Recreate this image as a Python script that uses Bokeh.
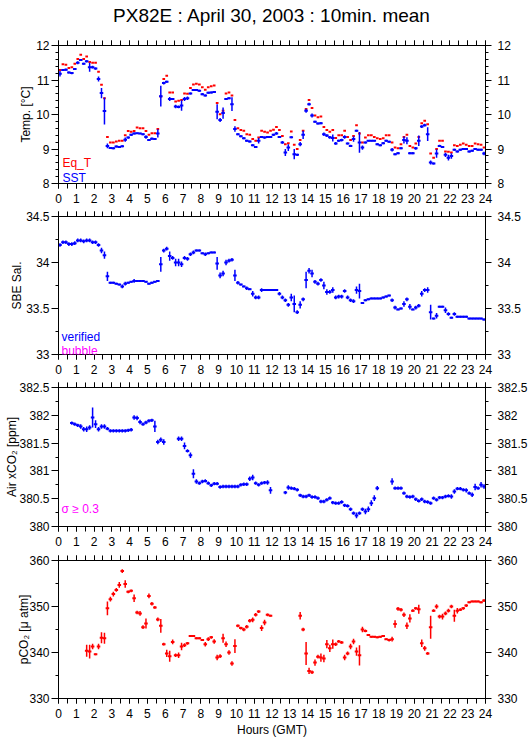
import numpy as np
from bokeh.plotting import figure
from bokeh.layouts import column
from bokeh.models import Range1d, FixedTicker, CustomJSTickFormatter, Label, LinearAxis, CustomLabelingPolicy
from bokeh.embed import file_html
from bokeh.resources import INLINE

FONT = "Liberation Sans"
BLUE, RED, MAGENTA = "#0000ff", "#ff0000", "#ff00ff"

title_text = "PX82E : April 30, 2003 : 10min. mean"
hours = [i / 6 + 1 / 12 for i in range(144)]          # 10-min bin centres
hour_ticks = list(range(25))
half_hours = [i / 2 for i in range(49)]

temp_ticks = [8, 9, 10, 11, 12]
temp_minor = [8 + i / 5 for i in range(21)]
sal_ticks = [33, 33.5, 34, 34.5]
sal_minor = [33 + i / 4 for i in range(7)]
xco2_ticks = [380, 380.5, 381, 381.5, 382, 382.5]
xco2_minor = [380 + i / 4 for i in range(11)]
pco2_ticks = [330, 340, 350, 360]
pco2_minor = [330 + 5 * i for i in range(7)]

# ---------------- Temperature ----------------
sst = [
    11.18, 11.29, 11.30, 11.22, 11.20, 11.32,
    11.50, 11.58, 11.47, 11.54, 11.37, 11.37,
    11.33, 11.03, 10.62, 10.10, 9.09, 9.03,
    9.02, 9.07, 9.06, 9.08, 9.27, 9.33,
    9.41, 9.45, 9.46, 9.45, 9.43, 9.35,
    9.26, 9.30, 9.29, 9.45, 10.53, 10.91,
    10.95, 10.45, 10.45, 10.23, 10.22, 10.26,
    10.45, 10.47, 10.61, 10.71, 10.71, 10.69,
    10.59, 10.55, 10.63, 10.64, 10.65, 10.08,
    9.84, 10.04, 10.45, 10.47, 10.30, 9.58,
    9.43, 9.37, 9.31, 9.24, 9.22, 9.11,
    9.06, 9.24, 9.35, 9.33, 9.35, 9.35,
    9.41, 9.45, 9.35, 9.19, 8.90, 9.04,
    9.34, 8.85, 8.83, 9.14, 9.41, 10.11,
    10.30, 9.97, 9.79, 9.74, 9.75, 9.43,
    9.39, 9.34, 9.32, 9.16, 9.24, 9.26,
    9.35, 9.16, 9.09, 9.29, 9.53, 9.19,
    9.04, 9.19, 9.24, 9.24, 9.24, 9.14,
    9.11, 9.17, 9.24, 9.21, 8.98, 8.85,
    8.88, 9.02, 9.26, 9.24, 8.88, 8.88,
    9.02, 9.24, 9.65, 9.69, 9.43, 8.61,
    8.58, 8.87, 9.09, 9.06, 8.83, 8.75,
    8.80, 8.98, 8.93, 8.98, 9.00, 9.00,
    8.93, 8.95, 9.00, 8.98, 8.98, 8.87,
]
sst_err = [
    0.08, 0.03, 0.03, 0.03, 0.03, 0.03,
    0.04, 0.03, 0.03, 0.03, 0.13, 0.04,
    0.03, 0.07, 0.15, 0.39, 0.07, 0.03,
    0.03, 0.03, 0.03, 0.03, 0.06, 0.03,
    0.03, 0.03, 0.02, 0.02, 0.03, 0.05,
    0.03, 0.03, 0.03, 0.12, 0.30, 0.04,
    0.03, 0.06, 0.03, 0.05, 0.04, 0.15,
    0.06, 0.05, 0.03, 0.02, 0.02, 0.03,
    0.03, 0.03, 0.03, 0.03, 0.02, 0.22,
    0.06, 0.16, 0.03, 0.03, 0.20, 0.08,
    0.03, 0.03, 0.03, 0.03, 0.03, 0.03,
    0.03, 0.08, 0.03, 0.03, 0.03, 0.03,
    0.03, 0.04, 0.03, 0.04, 0.10, 0.10,
    0.03, 0.15, 0.03, 0.06, 0.12, 0.06,
    0.04, 0.06, 0.03, 0.03, 0.03, 0.05,
    0.04, 0.04, 0.10, 0.04, 0.03, 0.04,
    0.05, 0.03, 0.03, 0.08, 0.03, 0.30,
    0.06, 0.03, 0.02, 0.02, 0.02, 0.03,
    0.03, 0.03, 0.03, 0.03, 0.05, 0.03,
    0.03, 0.03, 0.10, 0.10, 0.03, 0.03,
    0.04, 0.15, 0.04, 0.04, 0.20, 0.06,
    0.03, 0.12, 0.03, 0.03, 0.06, 0.08,
    0.08, 0.03, 0.03, 0.03, 0.03, 0.03,
    0.03, 0.03, 0.03, 0.03, 0.03, 0.05,
]
eq_t = [
    11.29, 11.46, 11.44, 11.35, 11.37, 11.47,
    11.61, 11.73, 11.61, 11.68, 11.52, 11.50,
    11.50, 11.24, 10.86, 10.47, 9.35, 9.19,
    9.19, 9.22, 9.24, 9.24, 9.40, 9.52,
    9.50, 9.52, 9.62, 9.60, 9.60, 9.52,
    9.41, 9.46, 9.46, 9.58, 10.52, 11.03,
    11.12, 10.64, 10.64, 10.38, 10.40, 10.42,
    10.61, 10.60, 10.77, 10.87, 10.89, 10.87,
    10.79, 10.72, 10.79, 10.82, 10.84, 10.33,
    10.01, 10.11, 10.61, 10.64, 10.55, 9.84,
    9.60, 9.55, 9.53, 9.43, 9.41, 9.29,
    9.24, 9.33, 9.53, 9.50, 9.48, 9.53,
    9.56, 9.64, 9.55, 9.38, 9.14, 9.17,
    9.51, 9.12, 9.00, 9.26, 9.53, 10.16,
    10.42, 10.19, 9.97, 9.92, 9.94, 9.64,
    9.55, 9.50, 9.55, 9.32, 9.40, 9.40,
    9.53, 9.35, 9.26, 9.38, 9.69, 9.45,
    9.19, 9.33, 9.40, 9.40, 9.35, 9.31,
    9.29, 9.31, 9.40, 9.40, 9.19, 9.04,
    9.02, 9.14, 9.35, 9.41, 9.09, 9.04,
    9.16, 9.35, 9.75, 9.82, 9.72, 8.87,
    8.75, 9.00, 9.24, 9.24, 8.93, 8.92,
    8.90, 9.11, 9.09, 9.12, 9.16, 9.12,
    9.09, 9.09, 9.16, 9.14, 9.12, 9.04,
]

# ---------------- Salinity ----------------
sal = [
    34.19, 34.22, 34.22, 34.20, 34.20, 34.21,
    34.24, 34.24, 34.23, 34.24, 34.24, 34.22,
    34.22, 34.19, 34.13, 34.08, 33.85, 33.78,
    33.78, 33.77, 33.76, 33.74, 33.77, 33.78,
    33.79, 33.80, 33.80, 33.80, 33.80, 33.79,
    33.77, 33.78, 33.79, 33.80, 33.98, 34.13,
    34.15, 34.07, 34.05, 34.00, 34.00, 33.98,
    34.05, 34.04, 34.09, 34.11, 34.13, 34.13,
    34.10, 34.09, 34.10, 34.11, 34.11, 33.99,
    33.86, 33.88, 34.00, 34.02, 34.03, 33.86,
    33.78, 33.76, 33.74, 33.72, 33.71, 33.66,
    33.62, 33.62, 33.70, 33.70, 33.70, 33.70,
    33.70, 33.70, 33.66, 33.62, 33.59, 33.54,
    33.62, 33.55, 33.46, 33.54, 33.60, 33.81,
    33.91, 33.88, 33.79, 33.77, 33.81, 33.75,
    33.68, 33.68, 33.70, 33.62, 33.63, 33.63,
    33.69, 33.62, 33.59, 33.58, 33.70, 33.69,
    33.56, 33.59, 33.60, 33.61, 33.61, 33.61,
    33.61, 33.62, 33.63, 33.64, 33.59, 33.51,
    33.49, 33.50, 33.55, 33.60, 33.52, 33.49,
    33.51, 33.53, 33.66, 33.70, 33.70, 33.46,
    33.39, 33.42, 33.52, 33.52, 33.48, 33.44,
    33.40, 33.44, 33.41, 33.41, 33.41, 33.41,
    33.39, 33.39, 33.39, 33.39, 33.39, 33.38,
]
sal_err = [
    0.02, 0.02, 0.02, 0.02, 0.02, 0.02,
    0.02, 0.02, 0.02, 0.02, 0.02, 0.02,
    0.02, 0.02, 0.03, 0.04, 0.05, 0.01,
    0.01, 0.01, 0.01, 0.02, 0.02, 0.01,
    0.01, 0.02, 0.01, 0.01, 0.01, 0.01,
    0.01, 0.01, 0.01, 0.01, 0.08, 0.02,
    0.02, 0.05, 0.02, 0.04, 0.04, 0.03,
    0.02, 0.02, 0.02, 0.02, 0.01, 0.01,
    0.01, 0.02, 0.01, 0.01, 0.01, 0.07,
    0.03, 0.03, 0.03, 0.02, 0.02, 0.06,
    0.02, 0.01, 0.01, 0.02, 0.01, 0.03,
    0.02, 0.02, 0.02, 0.01, 0.01, 0.01,
    0.01, 0.01, 0.02, 0.02, 0.02, 0.02,
    0.04, 0.09, 0.02, 0.04, 0.02, 0.09,
    0.03, 0.04, 0.02, 0.02, 0.02, 0.04,
    0.03, 0.02, 0.03, 0.02, 0.02, 0.02,
    0.02, 0.02, 0.02, 0.02, 0.04, 0.08,
    0.01, 0.01, 0.01, 0.01, 0.01, 0.01,
    0.01, 0.01, 0.01, 0.01, 0.02, 0.02,
    0.01, 0.01, 0.03, 0.02, 0.03, 0.01,
    0.02, 0.02, 0.03, 0.02, 0.03, 0.08,
    0.01, 0.03, 0.01, 0.01, 0.03, 0.02,
    0.01, 0.02, 0.01, 0.01, 0.01, 0.01,
    0.01, 0.01, 0.01, 0.01, 0.01, 0.01,
]

# ---------------- Air xCO2 ----------------
N = None
xco2 = [
    N, N, N, N, 381.86, 381.84,
    381.82, 381.80, 381.75, 381.75, 381.78, 381.96,
    381.84, 381.75, 381.80, 381.80, 381.76, 381.72,
    381.72, 381.72, 381.72, 381.72, 381.72, 381.73,
    381.74, 381.96, 381.95, 381.88, 381.84, 381.87,
    381.90, 381.91, 381.80, 381.52, 381.56, 381.52,
    N, N, N, N, 381.58, 381.58,
    381.45, 381.36, 381.28, 380.95, 380.81, 380.78,
    380.81, 380.82, 380.78, 380.74, 380.77, 380.77,
    380.71, 380.72, 380.72, 380.72, 380.72, 380.72,
    380.72, 380.75, 380.76, 380.76, 380.86, 380.88,
    380.78, 380.75, 380.78, 380.79, 380.79, 380.65,
    N, N, N, N, 380.61, 380.70,
    380.69, 380.68, 380.66, 380.56, 380.54, 380.54,
    380.56, 380.53, 380.53, 380.51, 380.45, 380.45,
    380.48, 380.51, 380.43, 380.42, 380.42, 380.44,
    380.38, 380.37, 380.31, 380.24, 380.20, 380.24,
    380.31, 380.27, 380.31, 380.42, 380.51, 380.69,
    N, N, N, N, 380.81, 380.69,
    380.69, 380.69, 380.60, 380.54, 380.53, 380.54,
    380.49, 380.46, 380.49, 380.45, 380.44, 380.42,
    380.51, 380.48, 380.52, 380.52, 380.54, 380.55,
    380.54, 380.63, 380.68, 380.68, 380.66, 380.65,
    380.60, 380.57, 380.71, 380.69, 380.75, 380.72,
]
xco2_err = [
    0.0, 0.0, 0.0, 0.0, 0.03, 0.03,
    0.03, 0.04, 0.04, 0.05, 0.04, 0.18,
    0.07, 0.04, 0.04, 0.04, 0.03, 0.03,
    0.03, 0.03, 0.03, 0.03, 0.03, 0.03,
    0.03, 0.04, 0.04, 0.04, 0.03, 0.03,
    0.03, 0.03, 0.10, 0.04, 0.04, 0.05,
    0.0, 0.0, 0.0, 0.0, 0.04, 0.04,
    0.06, 0.03, 0.05, 0.08, 0.04, 0.03,
    0.03, 0.03, 0.03, 0.03, 0.03, 0.03,
    0.03, 0.03, 0.03, 0.03, 0.03, 0.03,
    0.03, 0.03, 0.03, 0.03, 0.04, 0.05,
    0.03, 0.03, 0.03, 0.03, 0.04, 0.06,
    0.0, 0.0, 0.0, 0.0, 0.03, 0.04,
    0.03, 0.03, 0.03, 0.03, 0.03, 0.03,
    0.03, 0.03, 0.03, 0.03, 0.03, 0.03,
    0.03, 0.03, 0.03, 0.03, 0.03, 0.03,
    0.03, 0.03, 0.03, 0.03, 0.05, 0.03,
    0.03, 0.05, 0.05, 0.05, 0.05, 0.04,
    0.0, 0.0, 0.0, 0.0, 0.06, 0.03,
    0.03, 0.03, 0.03, 0.03, 0.03, 0.03,
    0.03, 0.03, 0.03, 0.03, 0.03, 0.03,
    0.03, 0.03, 0.03, 0.03, 0.03, 0.03,
    0.04, 0.04, 0.03, 0.03, 0.03, 0.04,
    0.03, 0.04, 0.06, 0.03, 0.05, 0.04,
]

# ---------------- pCO2 ----------------
pco2 = [
    N, N, N, N, N, N,
    N, N, N, 340.4, 340.2, 341.3,
    339.6, 341.3, 343.2, 343.1, 349.6, 351.6,
    352.7, 353.6, 354.7, 357.7, 354.9, 353.2,
    353.4, 351.8, 348.7, 348.5, 345.5, 346.3,
    352.3, 350.6, 349.8, 347.2, 345.8, 341.8,
    339.8, 339.2, 342.3, 339.4, 339.4, 341.3,
    341.6, 342.0, 343.6, 343.6, 343.1, 343.1,
    342.7, 341.8, 342.9, 343.3, 342.4, 338.9,
    339.2, 343.1, 341.8, 340.0, 337.6, 341.4,
    345.8, 345.3, 345.0, 345.6, 346.9, 347.1,
    348.2, 348.9, 345.3, 346.5, 348.2, 348.0,
    N, N, N, N, N, N,
    N, N, N, 348.0, 345.0, 339.8,
    336.0, 335.7, 337.8, 339.1, 338.9, 338.7,
    341.8, 340.9, 341.8, 341.8, 342.4, 342.2,
    338.9, 339.8, 341.3, 342.4, 340.2, 339.4,
    345.0, 344.7, 343.8, 343.4, 343.4, 343.3,
    343.4, 343.6, 342.9, 342.7, 342.9, 346.2,
    349.5, 349.3, 348.2, 345.8, 347.4, 349.1,
    349.6, 349.4, 342.0, 340.9, 339.8, 345.5,
    349.1, 350.0, 347.8, 347.8, 348.5, 349.1,
    350.0, 348.0, 349.1, 349.3, 349.6, 350.2,
    350.9, 351.1, 351.1, 351.1, 350.9, 351.3,
]
pco2_err = [
    0.0, 0.0, 0.0, 0.0, 0.0, 0.0,
    0.0, 0.0, 0.0, 1.3, 1.5, 0.6,
    0.2, 0.6, 1.2, 1.2, 1.5, 0.5,
    0.5, 0.4, 0.6, 0.4, 0.8, 0.3,
    0.3, 0.8, 0.4, 0.5, 0.4, 1.1,
    0.5, 0.4, 0.3, 0.4, 1.5, 0.3,
    0.8, 1.2, 0.5, 0.4, 0.6, 0.8,
    0.4, 0.3, 0.2, 0.2, 0.2, 0.2,
    0.2, 0.5, 0.4, 0.3, 0.5, 0.6,
    0.4, 1.0, 0.6, 0.5, 0.5, 1.5,
    0.3, 0.3, 0.4, 0.4, 0.4, 0.5,
    0.4, 0.3, 0.6, 0.6, 0.3, 0.2,
    0.0, 0.0, 0.0, 0.0, 0.0, 0.0,
    0.0, 0.0, 0.0, 0.8, 0.4, 2.5,
    0.7, 0.4, 0.7, 0.4, 0.9, 0.8,
    0.9, 0.8, 1.0, 0.4, 0.3, 0.3,
    0.6, 0.4, 0.6, 0.6, 0.9, 2.2,
    0.6, 0.3, 0.2, 0.2, 0.2, 0.2,
    0.2, 0.2, 0.2, 0.3, 0.5, 0.8,
    0.4, 0.4, 0.5, 0.7, 0.9, 0.3,
    0.3, 1.0, 0.8, 0.5, 0.3, 2.5,
    0.3, 0.5, 0.4, 0.6, 0.4, 0.4,
    0.4, 1.3, 0.6, 0.3, 0.3, 0.3,
    0.2, 0.2, 0.2, 0.2, 0.2, 0.3,
]

HIDE_ALL = "for (const i of indices) indices.unset(i)"


def crosses(p, val, err, color, hw, lw_h=2.0, lw_v=1.5):
    t = np.array(hours, dtype=float)
    v = np.array([np.nan if a is None else a for a in val], dtype=float)
    ok = ~np.isnan(v)
    t, v = t[ok], v[ok]
    p.segment(x0=t - hw, x1=t + hw, y0=v, y1=v, line_color=color, line_width=lw_h)
    if err is not None:
        e = np.array(err, dtype=float)[ok]
        p.segment(x0=t, x1=t, y0=v - e, y1=v + e, line_color=color, line_width=lw_v)


def style_axis(ax, ticker, labels, tick_out, minor_out, standoff):
    ax.ticker = ticker
    ax.formatter = CustomJSTickFormatter(code="return String(Math.round(tick * 100) / 100);")
    ax.axis_line_color = "black"
    ax.major_tick_line_color = "black"
    ax.minor_tick_line_color = "black"
    ax.major_tick_in = 0
    ax.minor_tick_in = 0
    ax.major_tick_out = tick_out
    ax.minor_tick_out = minor_out
    ax.major_label_text_font = FONT
    ax.major_label_text_color = "black"
    ax.major_label_standoff = standoff
    if labels:
        ax.major_label_text_font_size = "12px"
    else:
        ax.major_label_text_font_size = "0px"
        ax.major_label_policy = CustomLabelingPolicy(code=HIDE_ALL)
    ax.axis_label_text_font = FONT
    ax.axis_label_text_font_size = "12px"
    ax.axis_label_text_font_style = "normal"
    ax.axis_label_text_color = "black"


def panel(yr, yt, ym, fh, top, bottom, ylabel, ylab_standoff, xlabel=None):
    p = figure(frame_width=427, frame_height=fh, x_range=Range1d(0, 24), y_range=Range1d(*yr),
               output_backend="svg", toolbar_location=None,
               min_border_left=58, min_border_right=44,
               min_border_top=top, min_border_bottom=bottom,
               background_fill_color="white", border_fill_color="white")
    p.grid.visible = False
    p.outline_line_color = "black"
    p.outline_line_alpha = 1.0
    p.outline_line_width = 1
    style_axis(p.xaxis[0], FixedTicker(ticks=hour_ticks, minor_ticks=half_hours), True, 5, 5, 5)
    if xlabel:
        p.xaxis[0].axis_label = xlabel
        p.xaxis[0].axis_label_standoff = 2
    style_axis(p.yaxis[0], FixedTicker(ticks=yt, minor_ticks=ym), True, 7, 3, 2)
    p.yaxis[0].axis_label = ylabel
    p.yaxis[0].axis_label_standoff = ylab_standoff
    top_ax = LinearAxis()
    style_axis(top_ax, FixedTicker(ticks=hour_ticks, minor_ticks=half_hours), False, 5, 5, 0)
    p.add_layout(top_ax, "above")
    right_ax = LinearAxis()
    style_axis(right_ax, FixedTicker(ticks=yt, minor_ticks=ym), True, 6, 3, 6)
    p.add_layout(right_ax, "right")
    return p


def text_label(p, x, y, text, color):
    p.add_layout(Label(x=x, y=y, text=text, text_color=color, text_font=FONT,
                       text_font_size="12px", text_baseline="alphabetic", text_align="left"))


p1 = panel((8, 12), temp_ticks, temp_minor, 138, 45, 26, "Temp. [°C]", 0)
crosses(p1, eq_t, None, RED, 0.075)
crosses(p1, sst, sst_err, BLUE, 0.1)
text_label(p1, 0.22, 8.58, "Eq_T", RED)
text_label(p1, 0.22, 8.17, "SST", BLUE)
# invisible spacer between the top axis and the title, lifting the title to the top
spacer = LinearAxis(ticker=FixedTicker(ticks=[12]), major_tick_out=15, major_tick_in=0,
                    minor_tick_out=0, minor_tick_in=0, major_label_standoff=0,
                    axis_line_color=None, major_tick_line_color=None, minor_tick_line_color=None,
                    major_label_text_font_size="0px",
                    major_label_policy=CustomLabelingPolicy(code=HIDE_ALL))
p1.add_layout(spacer, "above")
p1.title.text = title_text
p1.title.align = "center"
p1.title.text_font = FONT
p1.title.text_font_size = "19px"
p1.title.text_font_style = "normal"
p1.title.text_color = "black"
if "standoff" in p1.title.properties():
    p1.title.standoff = 0

p2 = panel((33, 34.5), sal_ticks, sal_minor, 138, 7, 26, "SBE Sal.", -1)
crosses(p2, sal, sal_err, BLUE, 0.1)
text_label(p2, 0.17, 33.185, "verified", BLUE)
text_label(p2, 0.17, 33.043, "bubble", MAGENTA)

p3 = panel((380, 382.5), xco2_ticks, xco2_minor, 139, 7, 26, "Air xCO₂ [ppm]", -3)
crosses(p3, xco2, xco2_err, BLUE, 0.1)
text_label(p3, 0.17, 380.306, "σ ≥ 0.3", MAGENTA)

p4 = panel((330, 360), pco2_ticks, pco2_minor, 138, 8, 41, "pCO₂ [μ atm]", -5, xlabel="Hours (GMT)")
crosses(p4, pco2, pco2_err, RED, 0.1)

layout = column(p1, p2, p3, p4, spacing=0)

open("out.html", "w").write(file_html(layout, INLINE))
